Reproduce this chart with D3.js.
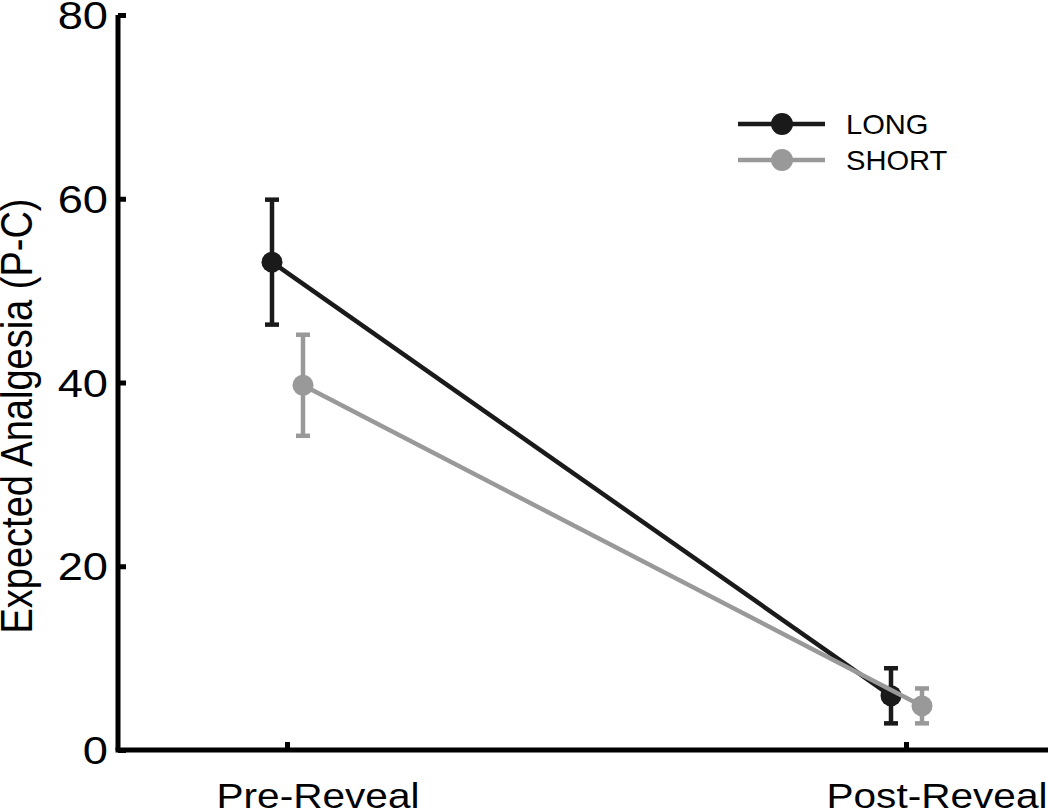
<!DOCTYPE html>
<html><head><meta charset="utf-8">
<script src="https://cdn.jsdelivr.net/npm/d3@7"></script>
<style>body{margin:0;background:#fff;} svg{display:block;font-family:"Liberation Sans",Arial,sans-serif;}</style>
</head><body>
<svg id="c" width="1050" height="812"></svg>
<script>
const categories = ["Pre-Reveal", "Post-Reveal"];
const seriesNames = ["LONG", "SHORT"];
const longMean = [53.1, 5.9];
const longErr = [6.8, 3.0];
const shortMean = [39.7, 4.8];
const shortErr = [5.5, 1.9];
const yTicks = [0, 20, 40, 60, 80];
const colors = ["#1a1a1a", "#999999"];

const svg = d3.select("#c");
const y = d3.scaleLinear().domain([0, 80]).range([750, 15]);
const x = d3.scalePoint().domain(categories).range([287, 906]);
const offsets = [-15, 16];
const axisLeft = 118, axisRight = 1048;
const stretch = 1.16;

const series = [
  {name: seriesNames[0], mean: longMean, err: longErr, color: colors[0], off: offsets[0]},
  {name: seriesNames[1], mean: shortMean, err: shortErr, color: colors[1], off: offsets[1]}
];

// axes
const yAxis = d3.axisRight(y).tickValues(yTicks).tickSize(8).tickFormat("");
const gy = svg.append("g").attr("transform", `translate(${axisLeft},0)`).call(yAxis);
gy.select(".domain").attr("d", `M0,${y(80)}V${y(0)}`).attr("stroke", "#000").attr("stroke-width", 5);
gy.selectAll(".tick line").attr("stroke", "#000").attr("stroke-width", 5);
svg.append("g").selectAll("text").data(yTicks).join("text")
  .attr("transform", d => `translate(108,${y(d) + 14}) scale(${stretch},1)`)
  .attr("text-anchor", "end").attr("font-size", 39).text(d => d);

const xAxis = d3.axisTop(x).tickSize(8).tickFormat("");
const gx = svg.append("g").attr("transform", `translate(0,${y(0)})`).call(xAxis);
gx.select(".domain").attr("d", `M${axisLeft - 2.5},0H${axisRight}`).attr("stroke", "#000").attr("stroke-width", 5);
gx.selectAll(".tick line").attr("stroke", "#000").attr("stroke-width", 5);
svg.append("g").selectAll("text").data(categories).join("text")
  .attr("transform", d => `translate(${x(d) + 31},808) scale(${stretch},1)`)
  .attr("text-anchor", "middle").attr("font-size", 35).text(d => d);

svg.append("text").attr("transform", `translate(32,416) rotate(-90) scale(1,${stretch})`)
  .attr("text-anchor", "middle").attr("font-size", 38).text("Expected Analgesia (P-C)");

series.forEach(s => {
  const g = svg.append("g");
  const pts = categories.map((c, i) => ({x: x(c) + s.off, m: s.mean[i], e: s.err[i]}));
  g.append("path").attr("d", d3.line().x(d => d.x).y(d => y(d.m))(pts))
    .attr("fill", "none").attr("stroke", s.color).attr("stroke-width", 4.5);
  pts.forEach(p => {
    g.append("line").attr("x1", p.x).attr("x2", p.x).attr("y1", y(p.m - p.e)).attr("y2", y(p.m + p.e))
      .attr("stroke", s.color).attr("stroke-width", 4.5);
    [p.m - p.e, p.m + p.e].forEach(v => g.append("line")
      .attr("x1", p.x - 7).attr("x2", p.x + 7).attr("y1", y(v)).attr("y2", y(v))
      .attr("stroke", s.color).attr("stroke-width", 4.5));
    g.append("circle").attr("cx", p.x).attr("cy", y(p.m)).attr("r", 10.5).attr("fill", s.color);
  });
});

// legend
const lg = svg.append("g");
series.forEach((s, i) => {
  const yy = 124 + i * 36;
  lg.append("line").attr("x1", 738).attr("x2", 825).attr("y1", yy).attr("y2", yy)
    .attr("stroke", s.color).attr("stroke-width", 4.5);
  lg.append("circle").attr("cx", 782).attr("cy", yy).attr("r", 11).attr("fill", s.color);
  lg.append("text").attr("transform", `translate(846,${yy + 10}) scale(1.04,1)`)
    .attr("font-size", 28).attr("fill", "#000").text(s.name);
});
</script>
</body></html>
